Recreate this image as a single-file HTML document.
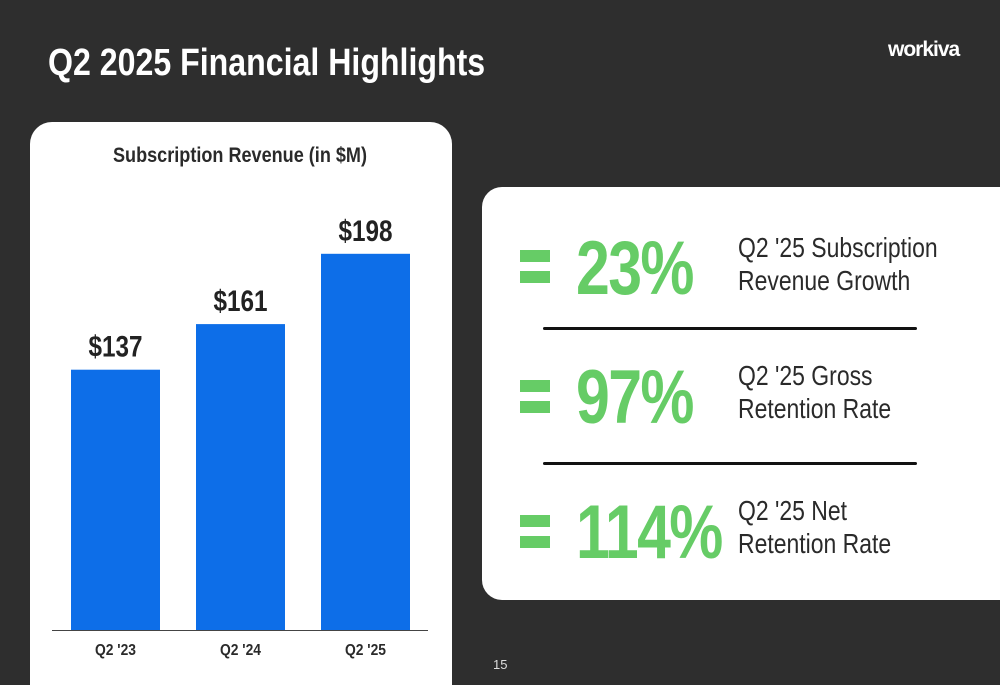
<!DOCTYPE html>
<html><head><meta charset="utf-8">
<style>
html,body{margin:0;width:1000px;height:685px;overflow:hidden}
body{background:#2e2e2e;font-family:"Liberation Sans",sans-serif;position:relative}
.abs{position:absolute}
.sx{transform-origin:0 0;white-space:nowrap}
#title{left:48px;top:42px;color:#fff;font-size:38px;font-weight:bold;transform:scaleX(0.845)}
#logo{left:888px;top:38px;color:#fff;font-size:21px;font-weight:bold;letter-spacing:-1px}
#left{left:30px;top:122px;width:422px;height:563px;background:#fff;border-radius:22px 22px 0 0}
#right{left:482px;top:187px;width:518px;height:413px;background:#fff;border-radius:20px 0 0 20px}
.big{color:#66cc66;font-weight:bold;font-size:76px;letter-spacing:-2px;line-height:1;transform:scaleX(0.8)}
.eqb{background:#66cc66;width:30px;height:12px}
.desc{color:#2a2a2a;font-size:28px;line-height:33px;transform:scaleX(0.82)}
.sep{height:3px;background:#111;border-radius:2px}
</style></head><body>
<div class="abs sx" id="title">Q2 2025 Financial Highlights</div>
<div class="abs" id="logo">workiva</div>
<div class="abs" id="left"></div>
<svg class="abs" style="left:0;top:0" width="1000" height="685">
<text x="113" y="162" textLength="254" lengthAdjust="spacingAndGlyphs" font-size="21" font-weight="bold" fill="#2a2a2a">Subscription Revenue (in $M)</text>
<g id="bars"></g>
<line x1="52" y1="630.5" x2="428" y2="630.5" stroke="#444" stroke-width="1"/>
</svg>
<div class="abs" id="right"></div>
<div class="abs eqb" style="left:520px;top:250px"></div>
<div class="abs eqb" style="left:520px;top:271px"></div>
<div class="abs big sx" style="left:576px;top:231px">23%</div>
<div class="abs desc sx" style="left:738px;top:231px">Q2 '25 Subscription<br>Revenue Growth</div>
<div class="abs sep" style="left:543px;top:327px;width:374px"></div>
<div class="abs eqb" style="left:520px;top:380px"></div>
<div class="abs eqb" style="left:520px;top:401px"></div>
<div class="abs big sx" style="left:576px;top:360px">97%</div>
<div class="abs desc sx" style="left:738px;top:359px">Q2 '25 Gross<br>Retention Rate</div>
<div class="abs sep" style="left:543px;top:462px;width:374px"></div>
<div class="abs eqb" style="left:520px;top:515px"></div>
<div class="abs eqb" style="left:520px;top:536px"></div>
<div class="abs big sx" style="left:576px;top:495px">114%</div>
<div class="abs desc sx" style="left:738px;top:494px">Q2 '25 Net<br>Retention Rate</div>
<div class="abs" style="left:493px;top:657px;color:#ddd;font-size:13px">15</div>
<script>
const categories=["Q2 '23","Q2 '24","Q2 '25"];
const values=[137,161,198];
const valueLabels=["$137","$161","$198"];
const g=document.getElementById('bars');
const base=630,scale=1.9,x0=71,step=125,bw=89;
const ns='http://www.w3.org/2000/svg';
const yS=v=>base-v*scale;
categories.forEach((c,i)=>{
 const x=x0+i*step;
 const r=document.createElementNS(ns,'rect');
 r.setAttribute('x',x);r.setAttribute('y',yS(values[i]));r.setAttribute('width',bw);r.setAttribute('height',base-yS(values[i]));r.setAttribute('fill','#0d6ee8');
 
 
 g.appendChild(r);
 const t=document.createElementNS(ns,'text');
 t.setAttribute('x',x+bw/2-27);t.setAttribute('y',yS(values[i])-13);t.setAttribute('textLength','54');t.setAttribute('lengthAdjust','spacingAndGlyphs');t.setAttribute('font-size','30');t.setAttribute('font-weight','bold');t.setAttribute('fill','#222');
 t.textContent=valueLabels[i];
 
 
 g.appendChild(t);
 const l=document.createElementNS(ns,'text');
 l.setAttribute('x',x+bw/2-20.5);l.setAttribute('y',655);l.setAttribute('textLength','41');l.setAttribute('lengthAdjust','spacingAndGlyphs');l.setAttribute('font-size','16');l.setAttribute('font-weight','bold');l.setAttribute('fill','#2a2a2a');
 l.textContent=c;
 
 
 g.appendChild(l);
});
</script>
</body></html>
